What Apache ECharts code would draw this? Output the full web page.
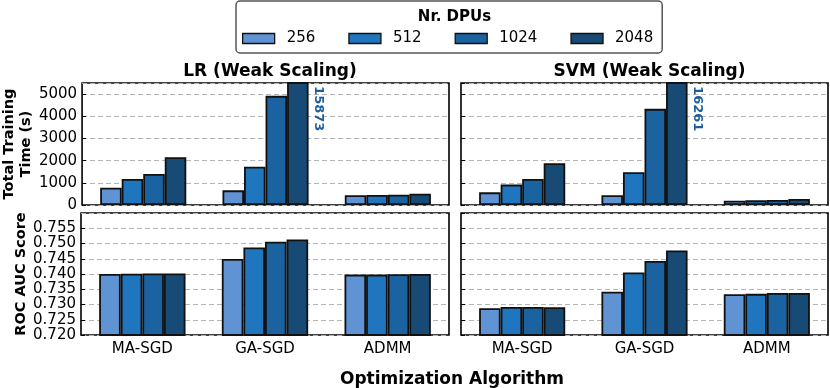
<!DOCTYPE html>
<html>
<head>
<meta charset="utf-8">
<script src="https://cdn.jsdelivr.net/npm/echarts@6/dist/echarts.min.js"></script>
<style>html,body{margin:0;padding:0;background:#fff}#c{width:830px;height:388px}</style>
</head>
<body>
<div id="c"></div>
<script>
// ---- data ----
var categories = ['MA-SGD', 'GA-SGD', 'ADMM'];
var dpus = ['256', '512', '1024', '2048'];
var panelTitles = ['LR (Weak Scaling)', 'SVM (Weak Scaling)'];

var lrTime256 = [780, 660, 440];
var lrTime512 = [1170, 1730, 450];
var lrTime1024 = [1400, 4920, 465];
var lrTime2048 = [2150, 15873, 510];

var svmTime256 = [570, 440, 195];
var svmTime512 = [920, 1475, 210];
var svmTime1024 = [1175, 4335, 225];
var svmTime2048 = [1880, 16261, 270];

var lrAuc256 = [0.7400, 0.7449, 0.7398];
var lrAuc512 = [0.7401, 0.7487, 0.7398];
var lrAuc1024 = [0.7402, 0.7506, 0.7399];
var lrAuc2048 = [0.7402, 0.7513, 0.7400];

var svmAuc256 = [0.7288, 0.7342, 0.7334];
var svmAuc512 = [0.7292, 0.7405, 0.7335];
var svmAuc1024 = [0.7292, 0.7443, 0.7338];
var svmAuc2048 = [0.7291, 0.7477, 0.7338];

var timeTicks = [0, 1000, 2000, 3000, 4000, 5000];
var aucTicks = [0.720, 0.725, 0.730, 0.735, 0.740, 0.745, 0.750, 0.755];

// ---- build ----
var colors = ['#5f93d3', '#1f76be', '#1a62a0', '#174a74'];
var FONT = 'DejaVu Sans';
var timeMax = 5500;

var panels = [
  {grid: 0, series: [lrTime256, lrTime512, lrTime1024, lrTime2048], kind: 'time'},
  {grid: 1, series: [svmTime256, svmTime512, svmTime1024, svmTime2048], kind: 'time'},
  {grid: 2, series: [lrAuc256, lrAuc512, lrAuc1024, lrAuc2048], kind: 'auc'},
  {grid: 3, series: [svmAuc256, svmAuc512, svmAuc1024, svmAuc2048], kind: 'auc'}
];

var grids = [
  {left: 81, top: 83, width: 368, height: 122},
  {left: 461, top: 83, width: 367, height: 122},
  {left: 81, top: 213, width: 368, height: 122},
  {left: 461, top: 213, width: 367, height: 122}
].map(function (g) {
  return Object.assign({show: true, borderColor: '#000', borderWidth: 1.6, backgroundColor: 'transparent'}, g);
});

var xAxes = [], yAxes = [], series = [];
panels.forEach(function (p, i) {
  var isBottom = p.kind === 'auc';
  var isLeft = (i % 2) === 0;
  xAxes.push({
    type: 'category', gridIndex: i, data: categories,
    axisLine: {show: false}, axisTick: {show: false},
    axisLabel: {show: isBottom, fontFamily: FONT, fontSize: 15, color: '#000', margin: 7},
    splitLine: {show: false}
  });
  var y = {
    type: 'value', gridIndex: i,
    axisLine: {show: false},
    axisTick: {show: true, inside: true, length: 4, lineStyle: {color: '#000', width: 1}},
    splitLine: {show: true, lineStyle: {color: '#b5b5b5', type: [5, 3], width: 1}},
    axisLabel: {show: isLeft, fontFamily: FONT, fontSize: 15, color: '#000', margin: 5, showMaxLabel: false}
  };
  if (p.kind === 'time') {
    y.min = timeTicks[0]; y.max = timeMax; y.interval = timeTicks[1] - timeTicks[0];
    y.axisLabel.formatter = function (v) { return timeTicks.indexOf(v) >= 0 ? String(v) : ''; };
    if (isLeft) {
      y.name = 'Total Training\nTime (s)';
      y.nameLocation = 'middle'; y.nameGap = 46;
      y.nameTextStyle = {fontFamily: FONT, fontWeight: 'bold', fontSize: 14.5, color: '#000', lineHeight: 17};
    }
  } else {
    y.min = aucTicks[0]; y.max = 0.76; y.interval = 0.005;
    y.axisLabel.formatter = function (v) { return v < 0.7575 ? v.toFixed(3) : ''; };
    if (isLeft) {
      y.name = 'ROC AUC Score';
      y.nameLocation = 'middle'; y.nameGap = 50;
      y.nameTextStyle = {fontFamily: FONT, fontWeight: 'bold', fontSize: 14.5, color: '#000'};
    }
  }
  yAxes.push(y);

  p.series.forEach(function (vals, k) {
    var data = vals.map(function (v) {
      if (p.kind === 'time' && v > timeMax) {
        return {
          value: v,
          label: {
            show: true, formatter: String(v), rotate: -90,
            position: ['100%', 0], align: 'left', verticalAlign: 'bottom',
            offset: [4, -3],
            fontFamily: FONT, fontWeight: 'bold', fontSize: 13, color: '#1b5f9c'
          }
        };
      }
      return v;
    });
    series.push({
      type: 'bar', name: dpus[k], xAxisIndex: i, yAxisIndex: i,
      data: data, clip: true,
      barGap: '0%', barCategoryGap: '29.6%',
      itemStyle: {color: colors[k], borderColor: '#111', borderWidth: 1.8},
      emphasis: {disabled: true},
      animation: false
    });
  });
});

var option = {
  backgroundColor: '#fff',
  animation: false,
  textStyle: {fontFamily: FONT},
  title: [
    {text: 'Nr. DPUs', left: 449.5, top: 5, textAlign: 'center',
     textStyle: {fontFamily: FONT, fontWeight: 'bold', fontSize: 15, color: '#000'}},
    {text: panelTitles[0], left: 265, top: 58, textAlign: 'center',
     textStyle: {fontFamily: FONT, fontWeight: 'bold', fontSize: 17, color: '#000'}},
    {text: panelTitles[1], left: 644.5, top: 58, textAlign: 'center',
     textStyle: {fontFamily: FONT, fontWeight: 'bold', fontSize: 17, color: '#000'}},
    {text: 'Optimization Algorithm', left: 447, top: 366, textAlign: 'center',
     textStyle: {fontFamily: FONT, fontWeight: 'bold', fontSize: 17, color: '#000'}}
  ],
  legend: {
    data: dpus, left: 236, top: 1,
    padding: [30, 9, 7, 6],
    itemWidth: 32, itemHeight: 10, itemGap: 33,
    icon: 'rect',
    itemStyle: {borderColor: '#111', borderWidth: 1.3},
    textStyle: {fontFamily: FONT, fontSize: 15, color: '#000', padding: [0, 0, 0, 7]},
    borderColor: '#555', borderWidth: 1.5, borderRadius: 4,
    selectedMode: false
  },
  grid: grids,
  xAxis: xAxes,
  yAxis: yAxes,
  series: series
};

var chart = echarts.init(document.getElementById('c'), null, {renderer: 'canvas'});
chart.setOption(option);
</script>
</body>
</html>
